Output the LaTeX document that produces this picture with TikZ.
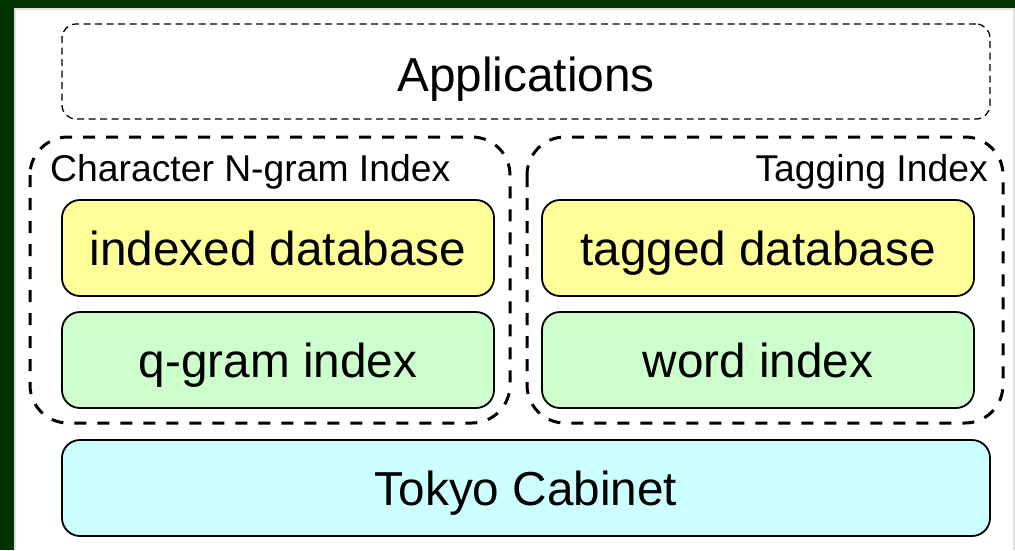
\documentclass[tikz,border=0pt]{standalone}
\usepackage{fontspec}
\setmainfont{Liberation Sans}
\usetikzlibrary{positioning,fit}
\definecolor{framegreen}{HTML}{003300}
\definecolor{dbyellow}{HTML}{FFFF99}
\definecolor{idxgreen}{HTML}{CCFFCC}
\definecolor{tccyan}{HTML}{CCFFFF}

\begin{document}
\begin{tikzpicture}[x=1pt, y=-1pt,
		layer/.style={draw, line width=1.8pt, rounded corners=18pt, minimum width=432pt, minimum height=96pt, inner sep=0pt, text height=42pt, text depth=7pt, font=\fontsize{47.7}{56}\selectfont},
		wide/.style={layer, minimum width=928pt},
		group/.style={draw, line width=3pt, dash pattern=on 12pt off 11pt, rounded corners=38pt},
		grouplabel/.style={inner sep=0pt, font=\fontsize{37.3}{44}\selectfont}]
	% frame
	\fill[framegreen] (0,0) rectangle (1015,550);
	\fill[black!12] (14,7.5) rectangle (1015,550);
	\fill[white] (16,9.5) rectangle (1012.5,550);
	\useasboundingbox (0,0) rectangle (1015,550);

	\node[wide, draw, line width=1.3pt, dash pattern=on 7pt off 4.5pt, rounded corners=14pt, minimum height=95pt, text height=45pt, text depth=5pt] (apps) at (526,71.5) {Applications};

	\node[layer, fill=dbyellow] (indexeddb) at (278,248) {indexed database};
	\node[layer, fill=idxgreen] (qgram) at (278,360) {q-gram index};
	\node[layer, fill=dbyellow] (taggeddb) at (758,248) {tagged database};
	\node[layer, fill=idxgreen] (wordidx) at (758,360) {word index};

	\node[wide, fill=tccyan] (cabinet) at (526,488) {Tokyo Cabinet};

	% index groups
	\draw[group] (30,137) rectangle (510,423);
	\draw[group] (527,137) rectangle (1003,423);
	\node[grouplabel, anchor=base west] (ngramlabel) at (50,181) {Character N-gram Index};
	\node[grouplabel, anchor=base east] (taglabel) at (988,181) {Tagging Index};
\end{tikzpicture}
\end{document}
